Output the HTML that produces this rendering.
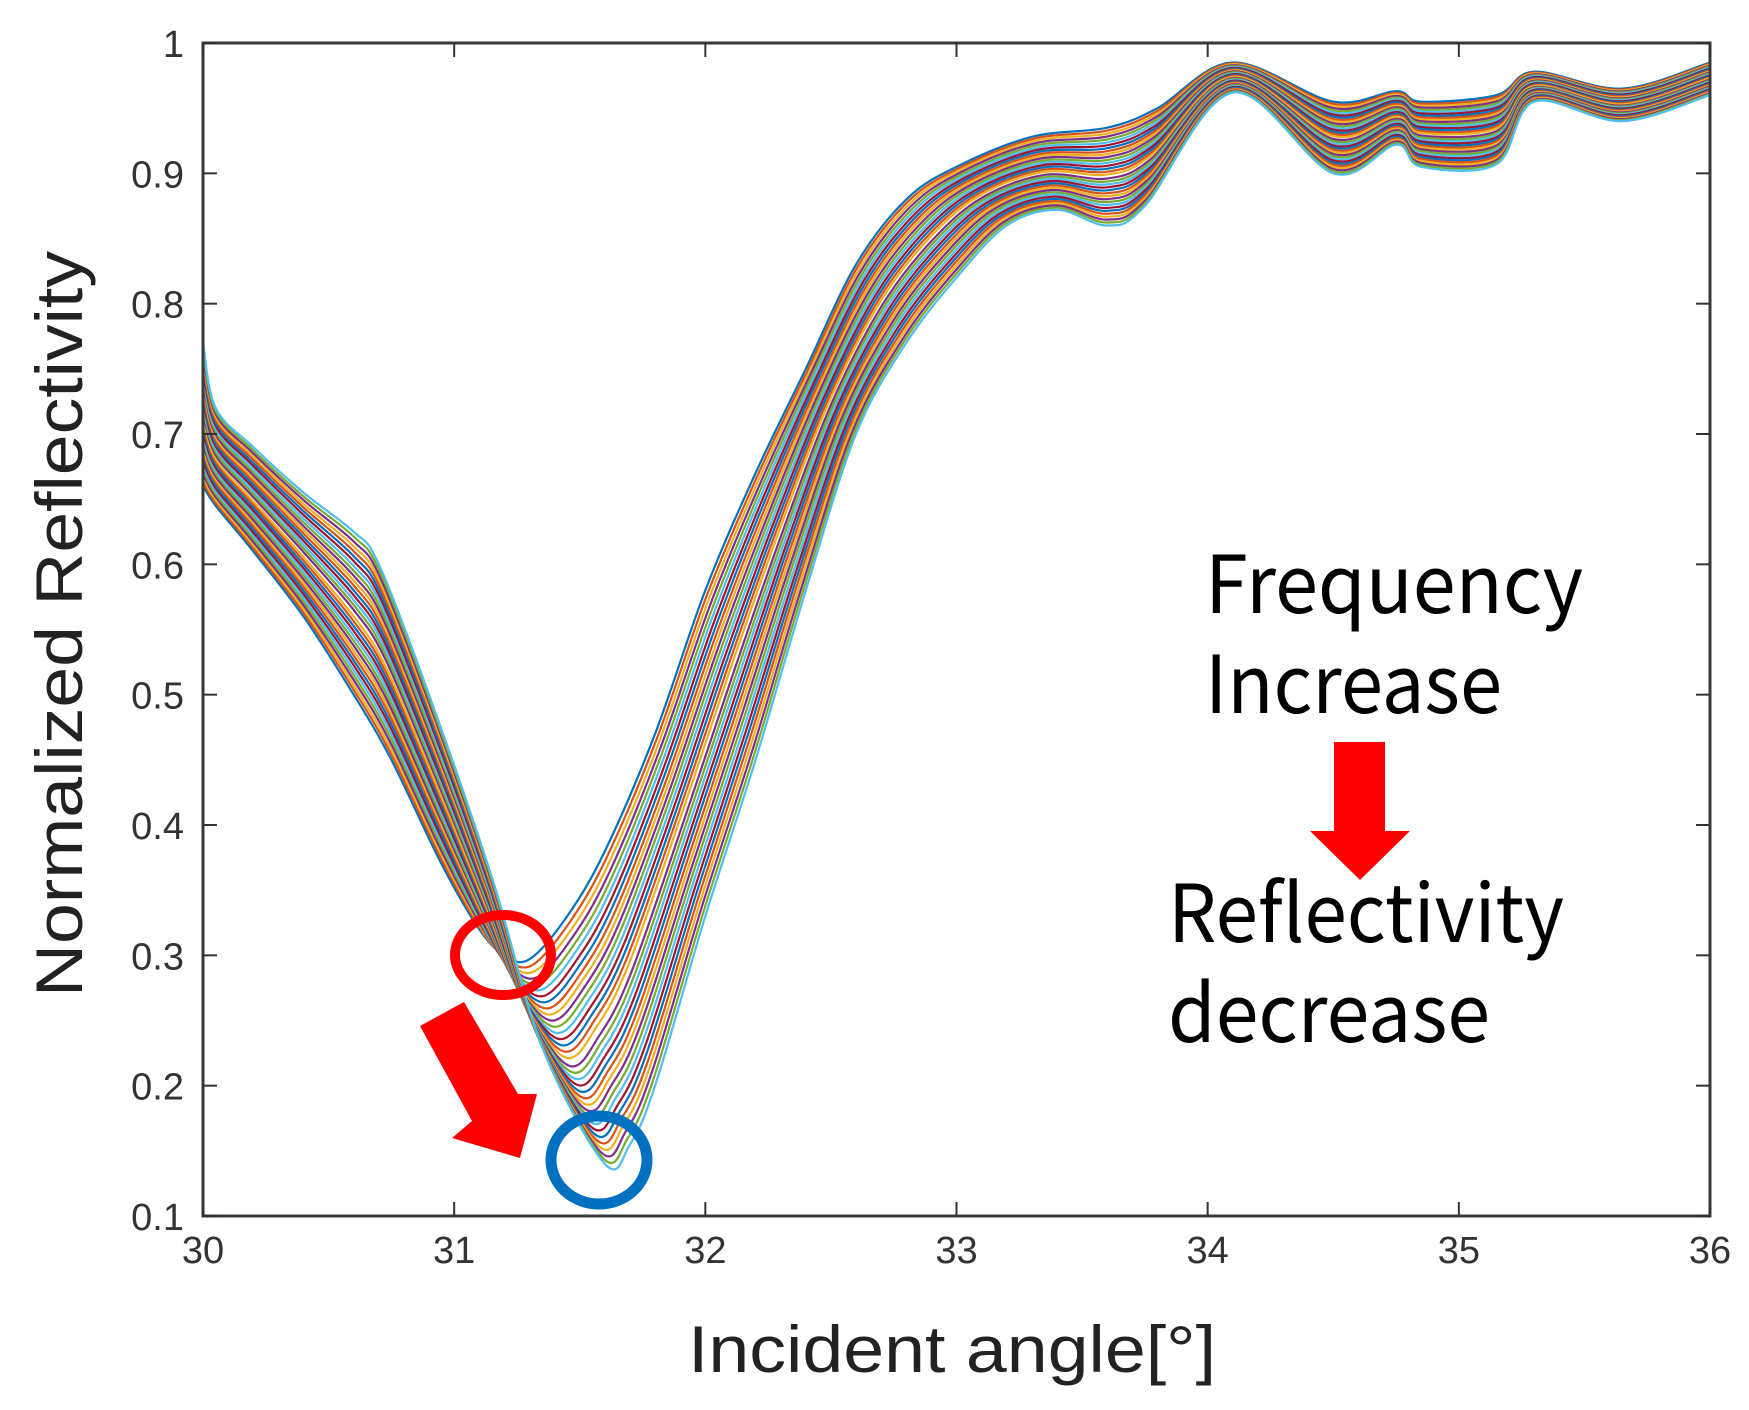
<!DOCTYPE html>
<html><head><meta charset="utf-8"><style>
html,body{margin:0;padding:0;background:#fff;}
svg{display:block;}
</style></head><body>
<svg id="chart" width="1749" height="1410" viewBox="0 0 1749 1410" xmlns="http://www.w3.org/2000/svg">
<rect x="0" y="0" width="1749" height="1410" fill="#fff"/>
<g id="curves"></g>
<g id="axes"></g>
<ellipse cx="503" cy="955" rx="48" ry="40" fill="none" stroke="#ff0000" stroke-width="10"/>
<ellipse cx="599" cy="1160" rx="48" ry="44" fill="none" stroke="#0070C0" stroke-width="11"/>
<polygon fill="#ff0000" points="420,1026 464,1002 518,1094 537,1094 520,1158 452,1138 472,1121"/>
<polygon fill="#ff0000" points="1334,742 1385,742 1385,831 1410,831 1360,880 1310,831 1334,831"/>
<g font-family="'Noto Sans CJK KR','DejaVu Sans',sans-serif" font-size="80" fill="#000">
<text x="1205" y="613" textLength="378" lengthAdjust="spacingAndGlyphs">Frequency</text>
<text x="1205" y="713" textLength="297" lengthAdjust="spacingAndGlyphs">Increase</text>
<text x="1168" y="942" textLength="396" lengthAdjust="spacingAndGlyphs">Reflectivity</text>
<text x="1168" y="1042" textLength="322" lengthAdjust="spacingAndGlyphs">decrease</text>
</g>
<text transform="translate(82,624) rotate(-90)" text-anchor="middle" font-family="'Liberation Sans',sans-serif" font-size="66" fill="#222" textLength="746" lengthAdjust="spacingAndGlyphs">Normalized Reflectivity</text>
<text x="952" y="1372" text-anchor="middle" font-family="'Liberation Sans',sans-serif" font-size="66" fill="#222" textLength="528" lengthAdjust="spacingAndGlyphs">Incident angle[°]</text>
</svg>
<script>
const xTicks = [30,31,32,33,34,35,36];
const yTicks = [0.1,0.2,0.3,0.4,0.5,0.6,0.7,0.8,0.9,1];
const yTickLabels = ['0.1','0.2','0.3','0.4','0.5','0.6','0.7','0.8','0.9','1'];
// first curve (lowest frequency) anchors
const angleFirst = [30,30.05,30.2,30.4,30.6,30.75,30.95,31.1,31.2,31.3,31.45,31.6,31.8,32.0,32.2,32.4,32.6,32.8,33.0,33.3,33.6,33.8,34.1,34.5,34.75,34.85,35.15,35.3,35.65,36];
const reflFirst  = [0.66,0.645,0.61,0.56,0.50,0.45,0.37,0.32,0.30,0.297,0.33,0.38,0.47,0.58,0.67,0.75,0.83,0.88,0.905,0.928,0.935,0.95,0.985,0.955,0.963,0.955,0.96,0.978,0.965,0.985];
// last curve (highest frequency) anchors
const angleLast = [30,30.05,30.2,30.4,30.6,30.7,30.9,31.15,31.35,31.6,31.7,31.8,32.0,32.2,32.4,32.6,32.8,33.0,33.2,33.4,33.6,33.75,34.1,34.5,34.75,34.85,35.15,35.3,35.65,36];
const reflLast  = [0.77,0.72,0.69,0.655,0.625,0.60,0.50,0.36,0.23,0.14,0.155,0.20,0.33,0.45,0.58,0.70,0.77,0.82,0.86,0.872,0.86,0.875,0.962,0.90,0.922,0.905,0.907,0.955,0.94,0.96];
// blend position of each measured curve between first and last
const curveBlend = [0,0.03,0.06,0.09,0.12,0.15,0.18,0.21,0.24,0.27,0.3,0.33,0.36,0.39,0.42,0.45,0.48,0.52,0.55,0.58,0.61,0.64,0.67,0.7,0.73,0.76,0.79,0.82,0.85,0.88,0.91,0.94,0.97,1];
const colors = ['#0072BD','#D95319','#EDB120','#7E2F8E','#77AC30','#4DBEEE','#A2142F'];

const L=203,R=1710,T=43,B=1216;
const xs = v => L + (v-30)/6*(R-L);
const ys = v => B - (v-0.1)/0.9*(B-T);
const NS='http://www.w3.org/2000/svg';
const curves=document.getElementById('curves');
const axes=document.getElementById('axes');

function smoothPath(pts){
  let d='M'+pts[0][0].toFixed(1)+','+pts[0][1].toFixed(1);
  for(let i=0;i<pts.length-1;i++){
    const p0=pts[Math.max(0,i-1)],p1=pts[i],p2=pts[i+1],p3=pts[Math.min(pts.length-1,i+2)];
    const c1x=p1[0]+(p2[0]-p0[0])/6,c1y=p1[1]+(p2[1]-p0[1])/6;
    const c2x=p2[0]-(p3[0]-p1[0])/6,c2y=p2[1]-(p3[1]-p1[1])/6;
    d+=' C'+c1x.toFixed(1)+','+c1y.toFixed(1)+' '+c2x.toFixed(1)+','+c2y.toFixed(1)+' '+p2[0].toFixed(1)+','+p2[1].toFixed(1);
  }
  return d;
}
curveBlend.forEach((w,k)=>{
  const pts=angleFirst.map((a,i)=>[xs(a*(1-w)+angleLast[i]*w), ys(reflFirst[i]*(1-w)+reflLast[i]*w)]);
  const p=document.createElementNS(NS,'path');
  p.setAttribute('d',smoothPath(pts));
  p.setAttribute('fill','none');
  p.setAttribute('stroke',colors[k%colors.length]);
  p.setAttribute('stroke-width','2.2');
  
  
  curves.appendChild(p);
});
function el(tag,attrs){const e=document.createElementNS(NS,tag);for(const k in attrs)e.setAttribute(k,attrs[k]);return e;}
const box=el('rect',{x:L,y:T,width:R-L,height:B-T,fill:'none',stroke:'#3a3a3a','stroke-width':3});


axes.appendChild(box);
xTicks.forEach(t=>{
  const x=xs(t);
  const a=el('line',{x1:x,y1:B,x2:x,y2:B-14,stroke:'#333','stroke-width':2});
  
  
  axes.appendChild(a);
  const b=el('line',{x1:x,y1:T,x2:x,y2:T+14,stroke:'#333','stroke-width':2});
  
  
  axes.appendChild(b);
  const tx=el('text',{x:x,y:1263,'text-anchor':'middle','font-family':"'Liberation Sans',sans-serif",'font-size':38,fill:'#333'});
  tx.textContent=String(t);
  
  
  axes.appendChild(tx);
});
yTicks.forEach((t,i)=>{
  const y=ys(t);
  const a=el('line',{x1:L,y1:y,x2:L+14,y2:y,stroke:'#333','stroke-width':2});
  
  
  axes.appendChild(a);
  const b=el('line',{x1:R,y1:y,x2:R-14,y2:y,stroke:'#333','stroke-width':2});
  
  
  axes.appendChild(b);
  const tx=el('text',{x:184,y:y+14,'text-anchor':'end','font-family':"'Liberation Sans',sans-serif",'font-size':38,fill:'#333'});
  tx.textContent=yTickLabels[i];
  
  
  axes.appendChild(tx);
});
</script>
</body></html>
